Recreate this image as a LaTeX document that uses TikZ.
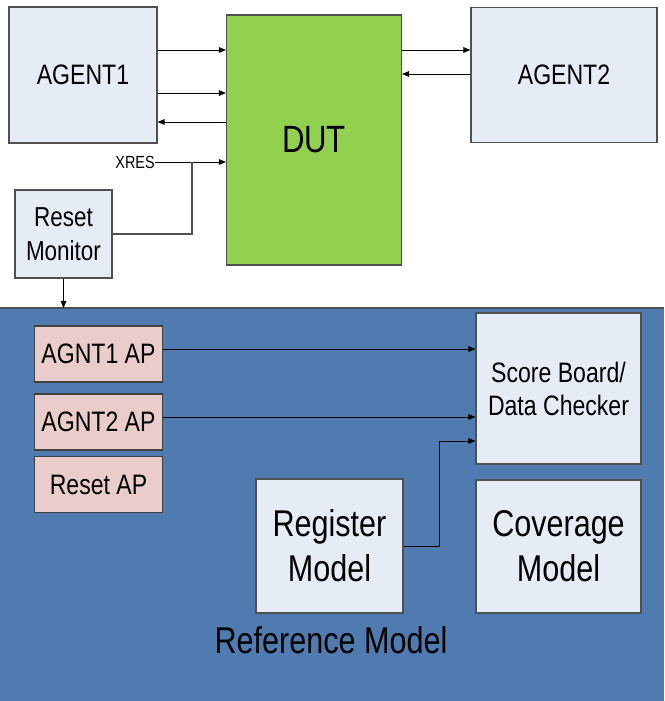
\documentclass[tikz,border=0pt]{standalone}
\usepackage{fontspec}
\setmainfont{Liberation Sans}[FakeStretch=0.82]
\usetikzlibrary{arrows.meta}
\definecolor{boxblue}{RGB}{230,236,246}
\definecolor{dutgreen}{RGB}{146,208,80}
\definecolor{appink}{RGB}{234,204,203}
\definecolor{refblue}{RGB}{79,123,176}
\definecolor{edgegray}{RGB}{80,80,80}
\tikzset{
  agentbox/.style={draw=edgegray, line width=0.8pt, fill=boxblue, align=center, inner sep=0pt},
  apbox/.style={draw=edgegray!80!black, line width=0.8pt, fill=appink, inner sep=0pt,
    minimum width=3.2cm, minimum height=1.4cm, font=\fontsize{20}{23}\selectfont},
  sig/.style={line width=0.7pt, -{Triangle[length=5pt,width=4pt]}},
  wire/.style={draw=edgegray, line width=0.8pt}
}
\begin{document}
\begin{tikzpicture}[x=0.025cm, y=-0.025cm]
                \useasboundingbox (0,0) rectangle (664,701);
                % reference model area
                \fill[refblue] (0,308) rectangle (664,701);
                \draw[edgegray, line width=0.8pt] (0,308) -- (664,308);

                \node[agentbox, minimum width=3.7cm, minimum height=3.4cm, font=\fontsize{20}{23}\selectfont] (agent1) at (83,75) {AGENT1};
                \node[agentbox, fill=dutgreen, minimum width=4.375cm, minimum height=6.25cm, font=\fontsize{27}{31}\selectfont] (dut) at (314,140) {DUT};
                \node[agentbox, minimum width=4.65cm, minimum height=3.375cm, font=\fontsize{20}{23}\selectfont] (agent2) at (564,75) {AGENT2};
                \node[agentbox, minimum width=2.425cm, minimum height=2.2cm, font=\fontsize{19.5}{24}\selectfont] (resetmon) at (63.5,234) {Reset\\Monitor};
                \node[anchor=east, inner sep=0pt, font=\fontsize{12.5}{14}\selectfont] (xres) at (155,162) {XRES};

                \node[apbox] (agnt1ap) at (98.5,354) {AGNT1 AP};
                \node[apbox] (agnt2ap) at (98.5,422) {AGNT2 AP};
                \node[apbox] (resetap) at (98.5,484.5) {Reset AP};

                \node[agentbox, minimum width=4.125cm, minimum height=3.775cm, font=\fontsize{20}{23.5}\selectfont] (score) at (558.5,388.5) {Score Board/\\Data Checker};
                \node[agentbox, minimum width=3.675cm, minimum height=3.35cm, font=\fontsize{26.5}{32}\selectfont] (register) at (329.5,546) {Register\\Model};
                \node[agentbox, minimum width=4.125cm, minimum height=3.325cm, font=\fontsize{26.5}{32}\selectfont] (coverage) at (558.5,546.5) {Coverage\\Model};
                \node[inner sep=0pt, font=\fontsize{26.5}{30}\selectfont] (reflabel) at (331,640) {Reference Model};

                % agent / dut signals
                \draw[sig] (agent1.east |- 0,50) -- (dut.west |- 0,50);
                \draw[sig] (agent1.east |- 0,93) -- (dut.west |- 0,93);
                \draw[sig] (dut.west |- 0,122) -- (agent1.east |- 0,122);
                \draw[sig] (xres.east) -- (xres.east -| dut.west);
                \draw[sig] (dut.east |- 0,50) -- (agent2.west |- 0,50);
                \draw[sig] (agent2.west |- 0,74) -- (dut.east |- 0,74);
                \draw[wire] (resetmon.east) -| (192,162);
                \draw[sig] (resetmon.south) -- (resetmon.south |- 0,308);

                % analysis ports
                \draw[sig] (agnt1ap.east |- 0,349) -- (score.west |- 0,349);
                \draw[sig] (agnt2ap.east |- 0,417) -- (score.west |- 0,417);
                \draw[sig] (register.east) -- ++(36,0) |- (score.west |- 0,441);
            \end{tikzpicture}
\end{document}
